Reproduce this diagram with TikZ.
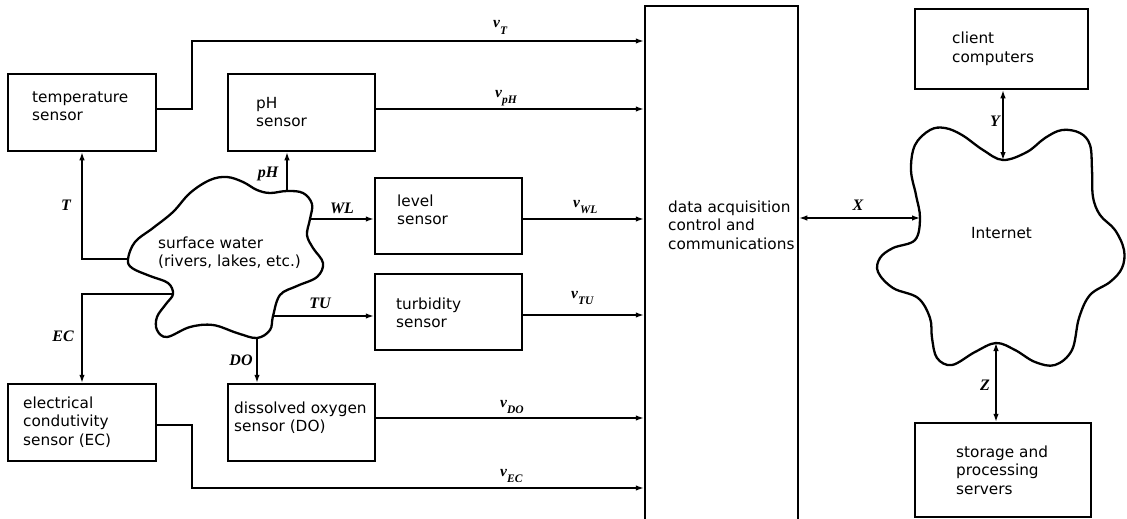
\documentclass[tikz,border=0pt]{standalone}
\usepackage{fontspec}
\usetikzlibrary{arrows.meta}
\newfontfamily\dv{DejaVu Sans}
\newfontfamily\lbf{Liberation Serif}
\newcommand\tl[1]{\begin{tabular}[t]{@{}l@{}}#1\end{tabular}}
\newcommand\vsub[1]{v\raisebox{-6pt}{\fontsize{11.5}{11.5}\selectfont #1}}
\tikzset{
  box/.style={draw, line width=2.5pt, inner sep=0pt},
  txt/.style={inner sep=0pt, anchor=base west, font=\dv\fontsize{15.3}{18.5}\selectfont},
  lab/.style={inner sep=0pt, font=\lbf\itshape\bfseries\fontsize{16}{16}\selectfont},
  vlab/.style={inner sep=0pt, anchor=base west, font=\lbf\itshape\bfseries\fontsize{15.5}{15.5}\selectfont},
  arr/.style={line width=1.3pt, -{Latex[length=8pt,width=5.5pt]}},
  darr/.style={line width=1.3pt, {Latex[length=8pt,width=5.5pt]}-{Latex[length=8pt,width=5.5pt]}},
  blob/.style={line width=2.3pt, line join=round},
}
\begin{document}
\begin{tikzpicture}[x=1pt,y=-1pt]
\useasboundingbox (0,0) rectangle (1127,519);
\fill[white] (0,0) rectangle (1127,519);
% boxes
\node[box, minimum width=148pt, minimum height=77pt] (temp) at (82,112.5) {};
\node[box, minimum width=147pt, minimum height=77pt] (pH) at (301.5,112.5) {};
\node[box, minimum width=147pt, minimum height=76pt] (level) at (448.5,216) {};
\node[box, minimum width=147pt, minimum height=76pt] (turb) at (448.5,312) {};
\node[box, minimum width=148pt, minimum height=77pt] (EC) at (82,422.5) {};
\node[box, minimum width=147pt, minimum height=77pt] (DO) at (301.5,422.5) {};
\node[box, minimum width=153pt, minimum height=529pt] (data) at (721.5,270.5) {};
\node[box, minimum width=173pt, minimum height=80pt] (client) at (1001.5,49) {};
\node[box, minimum width=176pt, minimum height=94pt] (storage) at (1003,470) {};
% box texts
\node[txt] (ttemp) at (32,102) {\tl{temperature\\sensor}};
\node[txt] (tpH) at (256,108) {\tl{pH\\sensor}};
\node[txt] (tlevel) at (397,206) {\tl{level\\sensor}};
\node[txt] (tturb) at (396,309) {\tl{turbidity\\sensor}};
\node[txt] (tEC) at (23,408) {\tl{electrical\\condutivity\\sensor (EC)}};
\node[txt] (tDO) at (234,413) {\tl{dissolved oxygen\\sensor (DO)}};
\node[txt] (tdata) at (668,212) {\tl{data acquisition\\control and\\communications}};
\node[txt] (tclient) at (952,44) {\tl{client\\computers}};
\node[txt] (tstorage) at (956,457) {\tl{storage and\\processing\\servers}};
% surface water blob
\draw[blob] plot[smooth cycle, tension=0.6] coordinates {
 (128,259) (135,242) (153,228) (173,212) (190,193) (210,180) (227,177) (243,182)
 (257,190) (270,193) (287,191) (303,193) (312,204) (310,219) (307,235) (313,248)
 (323,263) (317,277) (297,286) (280,295) (273,316) (270,330) (257,338) (237,333)
 (213,325) (190,327) (167,337) (157,330) (157,317) (166,304) (173,294) (168,283)
 (150,276) (132,268)};
\node[txt] (twater) at (158,248) {\tl{surface water\\(rivers, lakes, etc.)}};
\coordinate (bT) at (128,259);
\coordinate (bpH) at (287,191);
\coordinate (bWL) at (310,219);
\coordinate (bTU) at (273,316);
\coordinate (bDO) at (257,338);
\coordinate (bEC) at (173,294);
% internet cloud
\draw[blob] plot[smooth cycle, tension=0.6] coordinates {
 (1003,160) (1027,152) (1045,138) (1062,130) (1080,133) (1090,145) (1092,170)
 (1093,197) (1100,215) (1115,230) (1124,250) (1122,268) (1110,282) (1090,295)
 (1079,318) (1072,350) (1055,365) (1035,362) (1015,350) (996,343) (975,352)
 (952,365) (937,358) (932,338) (930,318) (918,298) (893,288) (878,272) (880,258)
 (893,248) (915,240) (920,218) (916,195) (911,170) (915,145) (930,130) (945,128)
 (962,135) (983,150)};
\node[txt] (tnet) at (971,238) {Internet};
\coordinate (iX) at (920,218);
\coordinate (iY) at (1003,160);
\coordinate (iZ) at (996,343);
% sensor -> data
\coordinate (vTbend) at (192,41);
\draw[arr] ([yshift=3.5pt]temp.east) -| (vTbend) -- (vTbend -| data.west);
\coordinate (pHo) at ([yshift=3.5pt]pH.east);
\draw[arr] (pHo) -- (pHo -| data.west);
\coordinate (lvo) at ([yshift=-3pt]level.east);
\draw[arr] (lvo) -- (lvo -| data.west);
\coordinate (tuo) at ([yshift=-3pt]turb.east);
\draw[arr] (tuo) -- (tuo -| data.west);
\coordinate (doo) at ([yshift=4.5pt]DO.east);
\draw[arr] (doo) -- (doo -| data.west);
\coordinate (eco) at ([yshift=-2.5pt]EC.east);
\coordinate (ecbend) at (192,488);
\draw[arr] (eco) -| (ecbend) -- (ecbend -| data.west);
% water -> sensors
\draw[arr] (bT) -| (temp.south);
\draw[arr] (bpH) -- (bpH |- pH.south);
\draw[arr] (bWL) -- (bWL -| level.west);
\draw[arr] (bTU) -- (bTU -| turb.west);
\draw[arr] (bDO) -- (bDO |- DO.north);
\draw[arr] (bEC) -| (EC.north);
% network
\draw[darr] (data.east |- iX) -- (iX);
\draw[darr] (iY |- client.south) -- (iY);
\draw[darr] (iZ) -- (iZ |- storage.north);
% labels
\node[lab] (lT) at (66,205) {T};
\node[lab] (lpH) at (268,174) {pH};
\node[lab] (lWL) at (342,208) {WL};
\node[lab] (lEC) at (63,336) {EC};
\node[lab] (lDO) at (241,360) {DO};
\node[lab] (lTU) at (320,303) {TU};
\node[lab] (lX) at (858,205) {X};
\node[lab] (lY) at (995,121) {Y};
\node[lab] (lZ) at (985,385) {Z};
\node[vlab] (vT) at (493,28) {\vsub{T}};
\node[vlab] (vpH) at (495,97) {\vsub{pH}};
\node[vlab] (vWL) at (573,207) {\vsub{WL}};
\node[vlab] (vTU) at (571,298) {\vsub{TU}};
\node[vlab] (vDO) at (500,407) {\vsub{DO}};
\node[vlab] (vEC) at (500,476) {\vsub{EC}};
\end{tikzpicture}
\end{document}
